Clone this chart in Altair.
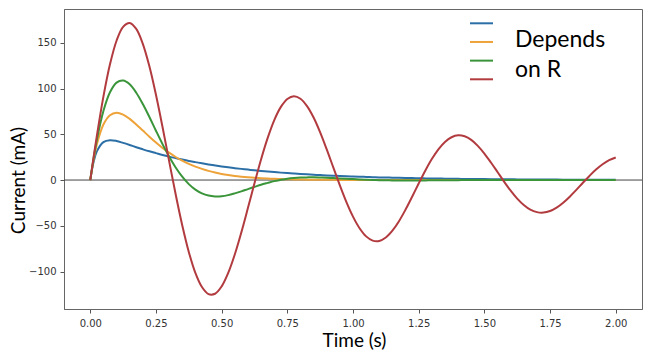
import altair as alt
import pandas as pd

# time samples (s)
t = [0, 0.0125, 0.025, 0.05, 0.075, 0.1, 0.125, 0.15, 0.175, 0.2, 0.225, 0.25, 0.275, 0.3,
     0.325, 0.35, 0.375, 0.4, 0.425, 0.45, 0.475, 0.5, 0.525, 0.55, 0.575, 0.6, 0.625, 0.65,
     0.675, 0.7, 0.725, 0.75, 0.775, 0.8, 0.825, 0.85, 0.875, 0.9, 0.925, 0.95, 0.975, 1.0,
     1.025, 1.05, 1.075, 1.1, 1.125, 1.15, 1.175, 1.2, 1.225, 1.25, 1.275, 1.3, 1.325, 1.35,
     1.375, 1.4, 1.425, 1.45, 1.475, 1.5, 1.525, 1.55, 1.575, 1.6, 1.625, 1.65, 1.675, 1.7,
     1.725, 1.75, 1.775, 1.8, 1.825, 1.85, 1.875, 1.9, 1.925, 1.95, 1.975, 2.0]

# currents (mA)
blue = [0, 19.6, 31.3, 41.5, 43.6, 42.7, 40.6, 38.3, 35.9, 33.6, 31.4, 29.4, 27.4, 25.6,
        24.0, 22.4, 20.9, 19.6, 18.3, 17.1, 16.0, 14.9, 13.9, 13.0, 12.2, 11.4, 10.6, 9.9,
        9.3, 8.7, 8.1, 7.6, 7.1, 6.6, 6.2, 5.8, 5.4, 5.0, 4.7, 4.4, 4.1, 3.8,
        3.6, 3.4, 3.1, 2.9, 2.7, 2.6, 2.4, 2.2, 2.1, 2.0, 1.8, 1.7, 1.6, 1.5,
        1.4, 1.3, 1.2, 1.1, 1.1, 1.0, 0.9, 0.9, 0.8, 0.8, 0.7, 0.7, 0.6, 0.6,
        0.5, 0.5, 0.5, 0.4, 0.4, 0.4, 0.4, 0.3, 0.3, 0.3, 0.3, 0.3]

orange = [0, 22.1, 38.9, 60.7, 70.9, 73.6, 71.6, 66.9, 60.8, 54.1, 47.4, 41.0, 35.1, 29.9,
          25.2, 21.1, 17.6, 14.7, 12.2, 10.0, 8.2, 6.7, 5.5, 4.5, 3.7, 3.0, 2.4, 2.0,
          1.6, 1.3, 1.0, 0.8, 0.7, 0.5, 0.4, 0.3, 0.3, 0.2, 0.2, 0.1, 0.1, 0.1,
          0, 0, 0, 0, 0, 0, 0, 0, 0, 0, 0, 0, 0, 0,
          0, 0, 0, 0, 0, 0, 0, 0, 0, 0, 0, 0, 0, 0,
          0, 0, 0, 0, 0, 0, 0, 0, 0, 0, 0, 0]

green = [0, 23.4, 43.8, 75.4, 95.9, 106.5, 108.8, 104.7, 95.5, 83.1, 68.9, 53.9, 39.3, 25.7,
         13.7, 3.6, -4.5, -10.5, -14.6, -17.0, -17.9, -17.7, -16.5, -14.6, -12.4, -9.9, -7.5, -5.1,
         -3.1, -1.2, 0.2, 1.4, 2.2, 2.7, 2.9, 3.0, 2.8, 2.5, 2.2, 1.8, 1.4, 1.0,
         0.6, 0.3, 0.1, -0.2, -0.3, -0.4, -0.5, -0.5, -0.5, -0.4, -0.4, -0.3, -0.3, -0.2,
         -0.1, -0.1, 0, 0, 0, 0, 0, 0, 0, 0, 0, 0, 0, 0,
         0, 0, 0, 0, 0, 0, 0, 0, 0, 0, 0, 0]

red = [0, 24.6, 48.3, 91.2, 126.5, 152.3, 167.5, 171.7, 165.2, 148.9, 124.3, 93.2, 58.0, 20.9,
       -15.6, -49.4, -78.6, -101.5, -117.0, -124.7, -124.3, -116.3, -101.6, -81.4, -57.2, -30.7, -3.6, 22.5,
       45.8, 65.3, 79.7, 88.6, 91.6, 88.9, 80.8, 68.3, 52.1, 33.5, 13.8, -5.8, -24.1, -40.0,
       -52.7, -61.6, -66.2, -66.6, -62.9, -55.4, -45.0, -32.3, -18.3, -3.8, 10.2, 22.9, 33.6, 41.7,
       46.8, 48.9, 47.8, 43.9, 37.4, 29.0, 19.2, 8.8, -1.7, -11.6, -20.3, -27.3, -32.4, -35.1,
       -35.6, -33.9, -30.2, -24.8, -18.2, -10.8, -3.0, 4.5, 11.4, 17.2, 21.8, 24.7]

series_names = ["R1", "R2", "R3", "R4"]
series_colors = ["#2b6fa6", "#eea33a", "#3a953a", "#b23b3f"]
x_ticks = [0, 0.25, 0.5, 0.75, 1.0, 1.25, 1.5, 1.75, 2.0]
y_ticks = [-100, -50, 0, 50, 100, 150]
legend_lines = ["Depends", "on R"]

frames = []
for name, vals in zip(series_names, [blue, orange, green, red]):
    frames.append(pd.DataFrame({"t": t, "i": vals, "series": name}))
df = pd.concat(frames, ignore_index=True)

x_scale = alt.Scale(domain=[-0.1, 2.1], nice=False, zero=False)
y_scale = alt.Scale(domain=[-141, 187], nice=False, zero=False)
color_scale = alt.Scale(domain=series_names, range=series_colors)

y_axis = alt.Axis(values=y_ticks, format="d", title="Current (mA)",
                  labelPadding=4, titleX=-40, titleY=171,
                  titleBaseline="alphabetic", titleAlign="center")

zero_line = alt.Chart(pd.DataFrame({"i": [0]})).mark_rule(
    color="#444444", strokeWidth=1
).encode(y=alt.Y("i:Q", scale=y_scale, axis=y_axis))

lines = alt.Chart(df).mark_line(strokeWidth=2, interpolate="catmull-rom").encode(
    x=alt.X("t:Q", scale=x_scale,
            axis=alt.Axis(values=x_ticks, format=".2f", title="Time (s)",
                          labelPadding=5, labelFlush=False,
                          titleX=290, titleY=37.7, titleBaseline="alphabetic",
                          titleAlign="center")),
    y=alt.Y("i:Q", scale=y_scale, axis=y_axis),
    color=alt.Color("series:N", scale=color_scale, legend=None),
)

legend_rules = alt.Chart(pd.DataFrame({"series": series_names})).mark_rule(strokeWidth=2).encode(
    x=alt.value(406), x2=alt.value(429),
    y=alt.Y("series:N", sort=series_names,
            scale=alt.Scale(type="point", range=[14.3, 70.3], padding=0), axis=None),
    color=alt.Color("series:N", scale=color_scale, legend=None),
)

text1 = alt.Chart(pd.DataFrame({"label": [legend_lines[0]]})).mark_text(
    font="Lato", fontSize=23, align="left", baseline="alphabetic", color="#000000"
).encode(text="label:N", x=alt.value(451), y=alt.value(37.7))

text2 = alt.Chart(pd.DataFrame({"label": [legend_lines[1]]})).mark_text(
    font="Lato", fontSize=23, align="left", baseline="alphabetic", color="#000000"
).encode(text="label:N", x=alt.value(451), y=alt.value(67.7))

chart = alt.layer(
    alt.layer(zero_line, lines),
    legend_rules, text1, text2,
).resolve_scale(y="independent").properties(
    width=578, height=300,
    autosize=alt.AutoSizeParams(type="none"),
    padding={"left": 64, "top": 9, "right": 8, "bottom": 45},
    background="white",
).configure_view(
    stroke="#666666", strokeWidth=1
).configure_axis(
    grid=False, domainColor="#666666", tickColor="#555555", tickSize=4,
    labelFont="DejaVu Sans", labelFontSize=10, labelColor="#333333",
    titleFont="Lato", titleFontSize=19, titleFontWeight="normal", titleColor="#000000",
)

chart.save("out.html", embed_options={"renderer": "svg", "actions": False})
